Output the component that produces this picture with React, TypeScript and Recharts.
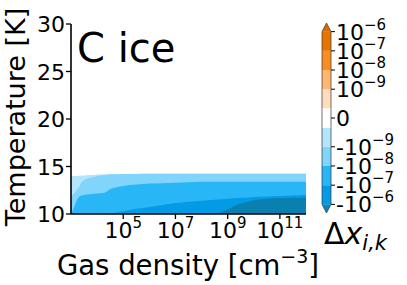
import React from 'react';
import { ComposedChart, Area, XAxis, YAxis, BarChart, Bar } from 'recharts';

// log10 of gas density [cm^-3]
const logDensity = [3, 3.1, 3.2, 3.3, 3.4, 3.5, 3.6, 3.8, 4, 4.25, 4.5, 5, 5.5, 6, 6.5, 7, 7.5, 8, 8.5, 8.75, 9, 9.25, 9.5, 9.75, 10, 10.5, 11, 11.5, 12];
// upper temperature boundary of each filled contour level (from weakest to strongest depletion)
const levelBelowMinus1e10 = [13.95, 14.0, 14.0, 14.02, 14.05, 14.05, 14.08, 14.1, 14.15, 14.17, 14.2, 14.22, 14.23, 14.24, 14.25, 14.25, 14.25, 14.25, 14.25, 14.25, 14.25, 14.25, 14.25, 14.25, 14.25, 14.25, 14.25, 14.25, 14.25];
const levelBelowMinus1e9 = [11.9, 12.1, 12.5, 12.8, 13.3, 13.55, 13.7, 13.85, 14.0, 14.1, 14.15, 14.2, 14.22, 14.24, 14.25, 14.25, 14.25, 14.25, 14.25, 14.25, 14.25, 14.25, 14.25, 14.25, 14.25, 14.25, 14.25, 14.25, 14.25];
const levelBelowMinus1e8 = [10.0, 10.6, 11.3, 11.8, 11.95, 12.0, 12.05, 12.1, 12.15, 12.2, 12.6, 12.95, 13.1, 13.2, 13.25, 13.3, 13.35, 13.4, 13.4, 13.4, 13.4, 13.4, 13.4, 13.4, 13.4, 13.4, 13.4, 13.4, 13.4];
const levelBelowMinus1e7 = [10, 10, 10, 10, 10, 10, 10, 10, 10, 10, 10.05, 10.3, 10.55, 10.75, 10.95, 11.15, 11.3, 11.4, 11.5, 11.55, 11.6, 11.65, 11.7, 11.75, 11.8, 11.85, 11.9, 11.95, 12.0];
const levelBelowMinus1e6 = [10, 10, 10, 10, 10, 10, 10, 10, 10, 10, 10, 10, 10, 10, 10, 10, 10, 10, 10, 10.2, 10.5, 10.85, 11.1, 11.3, 11.45, 11.6, 11.68, 11.72, 11.75];
const levelColors = ['#b3e5fc', '#81d4fa', '#29b6f6', '#039be5', '#0a80b0'];

const xTicks = [5, 7, 9, 11];
const yTicks = [10, 15, 20, 25, 30];

// colorbar
const cbarSegments = [0.45, 1, 1, 1, 1, 1, 1, 1, 1, 1, 0.45];
const cbarColors = ['#0a86bb', '#039be5', '#29b6f6', '#81d4fa', '#b3e5fc', '#ffffff', '#fedcbc', '#fdb771', '#f98d24', '#e57400', '#d86a00'];
const cbarTickValues = [0.45, 1.45, 2.45, 3.45, 4.95, 6.45, 7.45, 8.45, 9.45];
const cbarTickSigns = ['-', '-', '-', '-', '', '', '', '', ''];
const cbarTickExponents = ['−6', '−7', '−8', '−9', '', '−9', '−8', '−7', '−6'];

const FONT = 'DejaVu Sans';
const TICK_FS = 22;
const SUP_FS = 15;

const data = logDensity.map((x, i) => ({
  logn: x,
  l1: levelBelowMinus1e10[i],
  l2: levelBelowMinus1e9[i],
  l3: levelBelowMinus1e8[i],
  l4: levelBelowMinus1e7[i],
  l5: levelBelowMinus1e6[i],
}));

const cbarRow: Record<string, number | string> = { name: 'cb' };
cbarSegments.forEach((v, i) => { cbarRow['s' + i] = v; });

const XTick = (props: any) => {
  const { x, y, payload } = props;
  return (
    <text x={x} y={y + 19} textAnchor="middle" fontFamily={FONT} fontSize={TICK_FS} fill="#000">
      <tspan>10</tspan>
      <tspan dy={-10} fontSize={SUP_FS}>{payload.value}</tspan>
    </text>
  );
};

const YTick = (props: any) => {
  const { x, y, payload } = props;
  return (
    <text x={x} y={y + 8} textAnchor="end" fontFamily={FONT} fontSize={TICK_FS} fill="#000">
      {payload.value}
    </text>
  );
};

const CbarTick = (props: any) => {
  const { x, y, payload } = props;
  const i = cbarTickValues.indexOf(payload.value);
  if (i < 0) return null;
  if (cbarTickExponents[i] === '') {
    return (
      <text x={x} y={y + 8} textAnchor="start" fontFamily={FONT} fontSize={TICK_FS} fill="#000">0</text>
    );
  }
  return (
    <text x={x} y={y + 8} textAnchor="start" fontFamily={FONT} fontSize={TICK_FS} fill="#000">
      <tspan>{cbarTickSigns[i]}10</tspan>
      <tspan dy={-10} fontSize={SUP_FS}>{cbarTickExponents[i]}</tspan>
    </text>
  );
};

const makeShape = (idx: number) => (props: any) => {
  const { x, y, width, height } = props;
  const fill = cbarColors[idx];
  const edge = '#333';
  if (idx === 0) {
    return (
      <g>
        <polygon points={`${x},${y} ${x + width},${y} ${x + width / 2},${y + height}`} fill={fill} />
        <polyline points={`${x},${y} ${x + width / 2},${y + height} ${x + width},${y}`} fill="none" stroke={edge} strokeWidth={0.7} />
      </g>
    );
  }
  if (idx === cbarSegments.length - 1) {
    return (
      <g>
        <polygon points={`${x},${y + height} ${x + width},${y + height} ${x + width / 2},${y}`} fill={fill} />
        <polyline points={`${x},${y + height} ${x + width / 2},${y} ${x + width},${y + height}`} fill="none" stroke={edge} strokeWidth={0.7} />
      </g>
    );
  }
  return (
    <g>
      <rect x={x} y={y} width={width} height={height} fill={fill} />
      <line x1={x} y1={y} x2={x} y2={y + height} stroke={edge} strokeWidth={0.7} />
      <line x1={x + width} y1={y} x2={x + width} y2={y + height} stroke={edge} strokeWidth={0.7} />
    </g>
  );
};

export default function App() {
  const keys = ['l1', 'l2', 'l3', 'l4', 'l5'];
  return (
    <div style={{ position: 'absolute', left: 0, top: 0, width: 407, height: 285, background: '#fff' }}>
      <div style={{ position: 'absolute', left: 0, top: 0 }}>
        <ComposedChart width={407} height={285} data={data} margin={{ top: 24, right: 101, bottom: 0, left: 0 }}>
          {keys.map((k, i) => (
            <Area
              key={k}
              dataKey={k}
              type="monotone"
              fill={levelColors[i]}
              fillOpacity={1}
              stroke="none"
              baseValue={10}
              isAnimationActive={false}
            />
          ))}
          <XAxis
            dataKey="logn"
            type="number"
            domain={[3, 12]}
            ticks={xTicks}
            height={71}
            tickSize={5}
            tickMargin={0}
            tick={<XTick />}
            axisLine={{ stroke: '#000', strokeWidth: 1.6 }}
            tickLine={{ stroke: '#000', strokeWidth: 1.3 }}
            allowDataOverflow
          />
          <XAxis
            xAxisId="top"
            orientation="top"
            type="number"
            domain={[3, 12]}
            height={0}
            tick={false}
            tickLine={false}
            axisLine={{ stroke: '#000', strokeWidth: 1.6 }}
          />
          <YAxis
            type="number"
            domain={[10, 30]}
            ticks={yTicks}
            width={71}
            tickSize={5}
            tickMargin={1}
            tick={<YTick />}
            axisLine={{ stroke: '#000', strokeWidth: 1.6 }}
            tickLine={{ stroke: '#000', strokeWidth: 1.3 }}
            allowDataOverflow
          />
          <YAxis
            yAxisId="right"
            orientation="right"
            type="number"
            domain={[10, 30]}
            width={0}
            tick={false}
            tickLine={false}
            axisLine={{ stroke: '#000', strokeWidth: 1.6 }}
          />
          <text x={77} y={62} fontFamily={FONT} fontSize={40} fill="#000">C ice</text>
          <text x={25} y={117} transform="rotate(-90 25 117)" textAnchor="middle" fontFamily={FONT} fontSize={27} fill="#000">Temperature [K]</text>
          <text x={188} y={275} textAnchor="middle" fontFamily={FONT} fontSize={27.5} fill="#000">
            <tspan>Gas density [cm</tspan>
            <tspan dy={-12} fontSize={19}>−3</tspan>
            <tspan dy={12}>]</tspan>
          </text>
        </ComposedChart>
      </div>
      <div style={{ position: 'absolute', left: 0, top: 0 }}>
        <BarChart width={407} height={285} data={[cbarRow]} margin={{ top: 23, right: 16, bottom: 72, left: 322 }} barCategoryGap={0} barGap={0}>
          <XAxis dataKey="name" hide />
          {cbarSegments.map((_, i) => (
            <Bar key={i} dataKey={'s' + i} stackId="cb" isAnimationActive={false} shape={makeShape(i)} />
          ))}
          <YAxis
            orientation="right"
            type="number"
            domain={[0, 9.9]}
            ticks={cbarTickValues}
            width={60}
            tickSize={4}
            tickMargin={1}
            axisLine={false}
            tick={<CbarTick />}
            tickLine={{ stroke: '#000', strokeWidth: 1 }}
            interval={0}
          />
          <text x={324} y={244} fontFamily={FONT} fontSize={30} fill="#000">
            <tspan>Δ</tspan>
            <tspan fontStyle="italic">x</tspan>
            <tspan dy={6} fontSize={21} fontStyle="italic">i,k</tspan>
          </text>
        </BarChart>
      </div>
    </div>
  );
}
